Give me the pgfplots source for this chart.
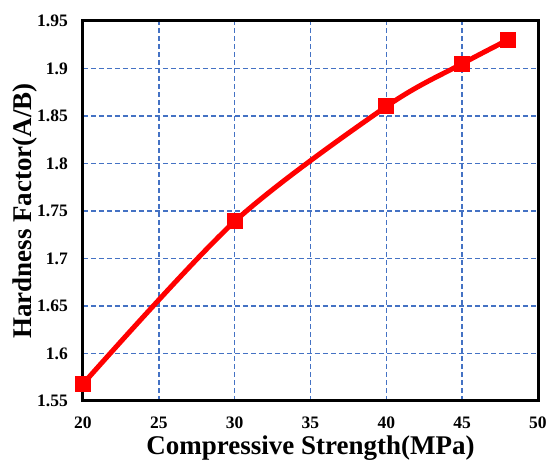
\documentclass[border=0pt]{standalone}
\usepackage{pgfplots}
\pgfplotsset{compat=1.18}
\usepackage{fontspec}
\setmainfont{Liberation Serif}
\definecolor{gridblue}{RGB}{68,114,196}
\begin{document}
\begin{tikzpicture}
\useasboundingbox (-83pt,-61pt) rectangle (464pt,401pt);
\begin{axis}[
  at={(0,0)}, anchor=south west,
  scale only axis,
  width=455pt, height=380pt,
  xmin=20, xmax=50, ymin=1.55, ymax=1.95,
  xtick={20,25,...,50},
  ytick={1.55,1.6,...,1.951},
  yticklabels={1.55,1.6,1.65,1.7,1.75,1.8,1.85,1.9,1.95},
  /pgf/number format/assume math mode=true,
  tick style={draw=none},
  ticklabel style={font=\fontsize{17.5}{20}\selectfont\bfseries, inner sep=1pt},
  xticklabel style={anchor=center, yshift=-22pt},
  yticklabel style={xshift=-14pt},
  axis line style={line width=3pt},
  grid=major,
  major grid style={gridblue, line width=1.5pt, dash pattern=on 5pt off 3pt},
  xlabel={Compressive Strength(MPa)},
  ylabel={Hardness Factor(A/B)},
  label style={font=\fontsize{27}{30}\selectfont\bfseries, inner sep=0pt},
  xlabel style={at={(axis description cs:0.5,0)}, anchor=center, yshift=-47pt},
  ylabel style={at={(axis description cs:0,0.5)}, anchor=center, yshift=58pt},
]
\addplot[red, line width=5pt, smooth, tension=0.5, mark=square*, mark size=7.5pt, mark options={solid, line width=0pt, fill=red}]
  coordinates {(20,1.568) (30,1.739) (40,1.860) (45,1.905) (48,1.930)};
\end{axis}
\end{tikzpicture}
\end{document}
